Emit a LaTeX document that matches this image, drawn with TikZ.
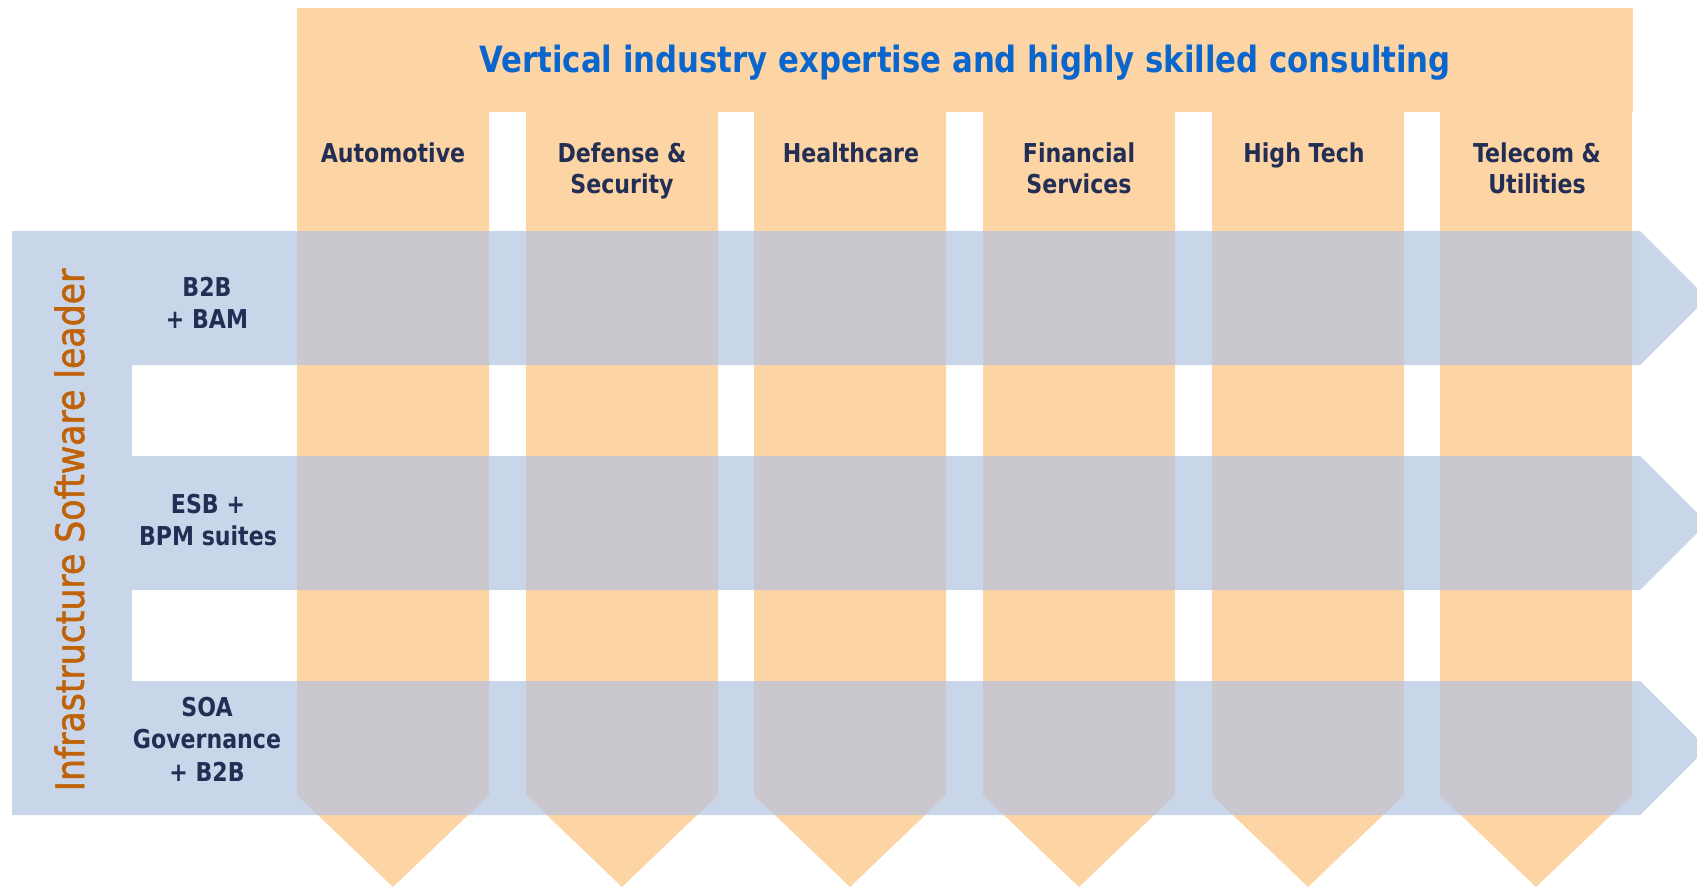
\documentclass[tikz,border=0pt]{standalone}
\usepackage{fontspec}
\setmainfont{DejaVu Sans}
\newfontfamily\hfont{DejaVu Sans}[FakeStretch=0.85]
\newfontfamily\vfont{DejaVu Sans}[FakeStretch=0.89,FakeBold=1.5]
\definecolor{orng}{RGB}{253,212,164}
\definecolor{blu}{RGB}{201,213,232}
\definecolor{ovl}{RGB}{202,199,207}
\definecolor{ttl}{RGB}{10,102,204}
\definecolor{navy}{RGB}{34,46,84}
\definecolor{brn}{RGB}{192,98,8}
\tikzset{
  hdr/.style={text=navy, font=\hfont\bfseries\fontsize{26}{31}\selectfont, inner sep=0pt, anchor=base},
  lbl/.style={text=navy, font=\hfont\bfseries\fontsize{26}{32.5}\selectfont, inner sep=0pt, anchor=base},
}
\newcommand{\ml}[1]{\begin{tabular}[t]{@{}c@{}}#1\end{tabular}}
\begin{document}
\begin{tikzpicture}[x=1pt,y=-1pt]
\useasboundingbox (0,0) rectangle (1697,888);
% orange
\fill[orng] (297,8) rectangle (1633,112);
\foreach \a in {297,526,754,983,1212,1440}
  \fill[orng] (\a,110) -- ({\a+192},110) -- ({\a+192},795) -- ({\a+96},887) -- (\a,795) -- cycle;
% blue
\fill[blu] (12,231) rectangle (132,815);
\foreach \t in {231,456,681}
  \fill[blu] (12,\t) -- (1640,\t) -- (1707,{\t+67}) -- (1640,{\t+134}) -- (12,{\t+134}) -- cycle;
% overlap
\begin{scope}
  \clip \foreach \a in {297,526,754,983,1212,1440} {(\a,110) -- ({\a+192},110) -- ({\a+192},795) -- ({\a+96},887) -- (\a,795) -- cycle};
  \foreach \t in {231,456,681}
    \fill[ovl] (12,\t) rectangle (1640,{\t+134});
\end{scope}
% texts
\node[text=ttl, font=\hfont\bfseries\fontsize{36.2}{44}\selectfont, inner sep=0pt, anchor=base] (title) at (965,73) {Vertical industry expertise and highly skilled consulting};
\node[hdr] (h1) at (393,162) {Automotive};
\node[hdr] (h2) at (622,162) {\ml{Defense \&\\Security}};
\node[hdr] (h3) at (851,162) {Healthcare};
\node[hdr] (h4) at (1079,162) {\ml{Financial\\Services}};
\node[hdr] (h5) at (1304,162) {High Tech};
\node[hdr] (h6) at (1537,162) {\ml{Telecom \&\\Utilities}};
\node[lbl] (r1) at (207,296) {\ml{B2B\\+ BAM}};
\node[lbl] (r2) at (208,513) {\ml{ESB +\\BPM suites}};
\node[lbl] (r3) at (207,716) {\ml{SOA\\Governance\\+ B2B}};
\node[text=brn, font=\vfont\fontsize{39}{47}\selectfont, inner sep=0pt, anchor=base, rotate=90] (side) at (84,530) {Infrastructure Software leader};
\end{tikzpicture}
\end{document}
